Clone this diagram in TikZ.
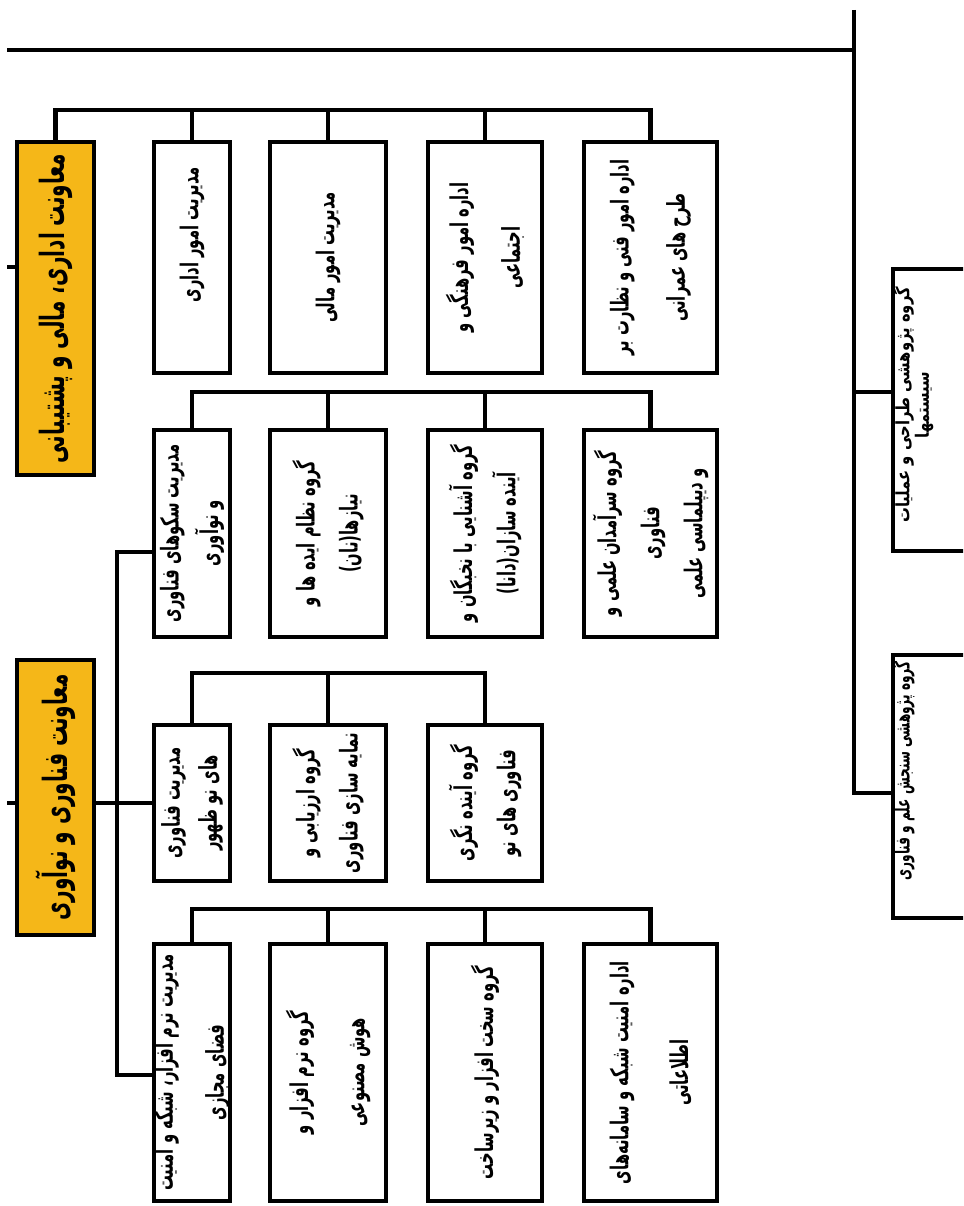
\documentclass[tikz,border=0pt]{standalone}
\usepackage{fontspec}
\usetikzlibrary{positioning}
\TeXXeTstate=1
\newfontfamily\fafont[Script=Arabic,FakeStretch=0.6]{DejaVu Sans}
\newfontfamily\fasmall[Script=Arabic,FakeStretch=0.8]{DejaVu Sans}
\newcommand{\fa}[1]{\beginR#1\endR}
\definecolor{deputyyellow}{RGB}{245,183,24}
\tikzstyle{unit}=[draw=black,fill=white,line width=2.3pt,rotate=90,align=center,inner sep=0pt,font=\fafont\bfseries\fontsize{14}{27}\selectfont]
\tikzstyle{deputy}=[unit,fill=deputyyellow,font=\fafont\bfseries\fontsize{19}{20}\selectfont]
\tikzstyle{rtext}=[rotate=90,align=center,inner sep=0pt,font=\fasmall\bfseries\fontsize{10.5}{11}\selectfont]
\tikzstyle{link}=[draw,line width=2.3pt]

\begin{document}
\begin{tikzpicture}[x=0.02cm,y=-0.02cm]
    \useasboundingbox (0,0) rectangle (963,1206);
    \clip (0,0) rectangle (963,1206);
    % the two deputies
    \node[deputy,minimum width=6.66cm,minimum height=1.54cm] (y1) at (55.5,308.5) {\fa{معاونت اداری، مالی و پشتیبانی}};
    \node[deputy,minimum width=5.5cm,minimum height=1.54cm] (y2) at (55.5,797.5) {\fa{معاونت فناوری و نوآوری}};

    % units under them
    \foreach \pos/\name/\bw/\bh/\gap/\txt in {
    {(192,257.5)/a1/4.62cm/1.52cm/27/{\hspace*{26pt}\fa{مدیریت امور اداری}}},
    {(328,257.5)/a2/4.62cm/2.32cm/27/{\fa{مدیریت امور مالی}}},
    {(485,257.5)/a3/4.62cm/2.28cm/29.5/{\fa{اداره امور فرهنگی و}\\\fa{اجتماعی}}},
    {(650.5,257.5)/a4/4.62cm/2.66cm/32/{\fa{اداره امور فنی و نظارت بر}\\\fa{طرح های عمرانی}}},
    {(192,533.5)/b1/4.14cm/1.52cm/22.5/{\fa{مدیریت سکوهای فناوری}\\\fa{و نوآوری}}},
    {(328,533.5)/b2/4.14cm/2.32cm/24.5/{\fa{گروه نظام ایده ها و}\\\fa{نیازها(نان)}}},
    {(485,533.5)/b3/4.14cm/2.28cm/24.5/{\fa{گروه آشنایی با نخبگان و}\\\fa{آینده سازان(دانا)}}},
    {(650.5,533.5)/b4/4.14cm/2.66cm/24.5/{\fa{گروه سرآمدان علمی و}\\\fa{فناوری}\\\fa{و دیپلماسی علمی}}},
    {(192,803)/c1/3.12cm/1.52cm/21/{\fa{مدیریت فناوری}\\\fa{های نو ظهور}}},
    {(328,803)/c2/3.12cm/2.32cm/24.5/{\fa{گروه ارزیابی و}\\\fa{نمایه سازی فناوری}}},
    {(485,803)/c3/3.12cm/2.28cm/24.5/{\fa{گروه آینده نگری}\\\fa{فناوری های نو}}},
    {(192,1072.5)/d1/5.14cm/1.52cm/29/{\fa{مدیریت نرم افزار، شبکه و امنیت}\\\fa{فضای مجازی}}},
    {(328,1072.5)/d2/5.14cm/2.32cm/32/{\fa{گروه نرم افزار و}\\\fa{هوش مصنوعی}}},
    {(485,1072.5)/d3/5.14cm/2.28cm/27/{\fa{گروه سخت افزار و زیرساخت}}},
    {(650.5,1072.5)/d4/5.14cm/2.66cm/34/{\fa{اداره امنیت شبکه و سامانه‌های}\\\fa{اطلاعاتی}}},
    {(946.5,410)/r1/5.64cm/2.14cm/27/{}},
    {(946.5,786.5)/r2/5.26cm/2.14cm/27/{}}}
        \node[unit,minimum width=\bw,minimum height=\bh,font=\fafont\bfseries\fontsize{14}{\gap}\selectfont] (\name) at \pos {\txt};

    \node[rtext] (r1t) at (913,405) {\fa{گروه پژوهشی طراحی و عملیات}\\\fa{سیستمها}};
    \node[rtext,font=\fafont\bfseries\fontsize{11.5}{12}\selectfont] (r2t) at (903,771) {\fa{گروه پژوهشی سنجش علم و فناوری}};

    % bus levels
    \coordinate (trunk) at (854,10);
    \coordinate (busTop) at (7,50);
    \coordinate (busA) at (0,110);
    \coordinate (busB) at (0,392);
    \coordinate (busC) at (0,673);
    \coordinate (busD) at (0,909);
    \coordinate (busR) at (0,793);
    \coordinate (spineB) at (117,552);
    \coordinate (spineD) at (117,1075);

    \draw[link] (busTop) -- (busTop -| trunk);
    \draw[link] (trunk) -- (trunk |- busR) -- (r2.north |- busR);
    \draw[link] (trunk |- busB) -- (r1.north |- busB);

    \draw[link] (y1.east) -- (y1.east |- busA) -- (a4.east |- busA) -- (a4.east);
    \draw[link] (b1.east) -- (b1.east |- busB) -- (b4.east |- busB) -- (b4.east);
    \draw[link] (c1.east) -- (c1.east |- busC) -- (c3.east |- busC) -- (c3.east);
    \draw[link] (d1.east) -- (d1.east |- busD) -- (d4.east |- busD) -- (d4.east);
    \foreach \unit in {a1,a2,a3}
        \draw[link] (\unit.east) -- (\unit.east |- busA);
    \foreach \unit in {b2,b3}
        \draw[link] (\unit.east) -- (\unit.east |- busB);
    \foreach \unit in {c2}
        \draw[link] (\unit.east) -- (\unit.east |- busC);
    \foreach \unit in {d2,d3}
        \draw[link] (\unit.east) -- (\unit.east |- busD);

    \draw[link] (b1.north |- spineB) -- (spineB) -- (spineD) -- (d1.north |- spineD);
    \draw[link] (y2.south |- c1.north) -- (c1.north);
    \draw[link] (y1.north |- 0,267) -- (7,267);
    \draw[link] (y2.north |- c1.north) -- (7,803);
\end{tikzpicture}
\end{document}
